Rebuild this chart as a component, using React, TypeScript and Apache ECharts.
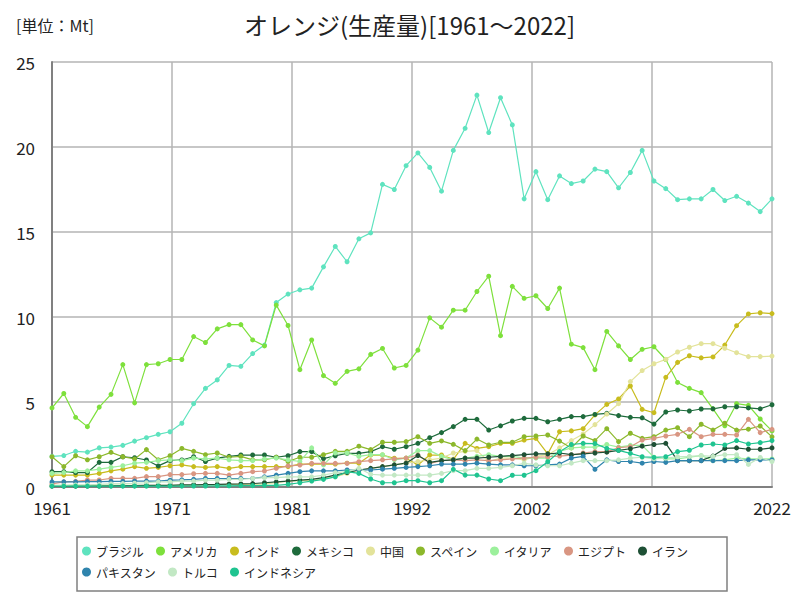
import React, { useEffect, useRef } from "react";
import * as echarts from "echarts";

const years: number[] = [];
for (let y = 1961; y <= 2022; y++) years.push(y);

const seriesNames = [
  "ブラジル", "アメリカ", "インド", "メキシコ", "中国", "スペイン",
  "イタリア", "エジプト", "イラン", "パキスタン", "トルコ", "インドネシア",
];

const colors = [
  "#5fe3bf", "#7ee03c", "#c8bc1e", "#1e6b3c", "#e3e39a", "#8cb82c",
  "#9cf09c", "#d99682", "#1e5035", "#2f84ad", "#c2e8c4", "#1fc490",
];

// 1961 .. 2022
const brazil = [
  1.8, 1.85, 2.1, 2.05, 2.3, 2.35, 2.45, 2.7, 2.9, 3.1,
  3.25, 3.75, 4.9, 5.8, 6.3, 7.15, 7.1, 7.85, 8.35, 10.85,
  11.35, 11.6, 11.7, 12.95, 14.15, 13.25, 14.6, 14.95, 17.8, 17.5,
  18.9, 19.65, 18.8, 17.4, 19.8, 21.1, 23.05, 20.85, 22.9, 21.3,
  16.95, 18.55, 16.9, 18.3, 17.85, 18.0, 18.7, 18.55, 17.6, 18.5,
  19.8, 18.0, 17.55, 16.9, 16.95, 16.95, 17.5, 16.85, 17.1, 16.7,
  16.2, 16.95,
];
const usa = [
  4.65, 5.5, 4.1, 3.55, 4.7, 5.45, 7.2, 4.95, 7.2, 7.25,
  7.5, 7.5, 8.85, 8.5, 9.3, 9.55, 9.55, 8.65, 8.3, 10.7,
  9.5, 6.9, 8.65, 6.55, 6.1, 6.8, 6.95, 7.8, 8.15, 7.0,
  7.15, 8.05, 9.95, 9.4, 10.4, 10.4, 11.5, 12.4, 8.9, 11.8,
  11.1, 11.25, 10.5, 11.7, 8.4, 8.2, 6.9, 9.15, 8.3, 7.5,
  8.1, 8.25, 7.5, 6.15, 5.8, 5.55, 4.6, 3.6, 4.9, 4.8,
  4.0, 3.3,
];
const india = [
  0.7, 0.7, 0.7, 0.7, 0.8, 0.95, 1.05, 1.2, 1.1, 1.15,
  1.25, 1.3, 1.2, 1.15, 1.2, 1.1, 1.2, 1.2, 1.2, 1.2,
  1.2, 1.35, 1.35, 1.35, 1.35, 1.4, 1.4, 1.88, 1.88, 1.69,
  1.69, 1.29, 1.88, 1.88, 1.63, 2.57, 2.27, 2.37, 2.57, 2.57,
  2.76, 2.86, 1.95, 3.25, 3.3, 3.43, 4.24, 4.86, 5.18, 5.94,
  4.57, 4.37, 6.45, 7.33, 7.72, 7.6, 7.65, 8.35, 9.49, 10.18,
  10.25, 10.2,
];
const mexico = [
  0.9, 0.9, 0.85, 0.85, 1.45, 1.45, 1.78, 1.72, 1.59, 1.24,
  1.55, 1.59, 1.78, 1.5, 1.7, 1.8, 1.88, 1.88, 1.88, 1.75,
  1.84, 2.08, 2.08, 1.67, 1.84, 1.98, 1.98, 2.08, 2.37, 2.22,
  2.37, 2.57, 2.9, 3.2, 3.55, 3.98, 3.98, 3.35, 3.6, 3.88,
  4.04, 4.04, 3.84, 3.98, 4.14, 4.14, 4.27, 4.33, 4.2, 4.1,
  4.07, 3.7, 4.41, 4.53, 4.47, 4.59, 4.6, 4.72, 4.72, 4.65,
  4.6, 4.84,
];
const china = [
  0.1, 0.1, 0.1, 0.1, 0.1, 0.1, 0.1, 0.1, 0.1, 0.1,
  0.1, 0.1, 0.1, 0.12, 0.12, 0.15, 0.15, 0.15, 0.18, 0.25,
  0.35, 0.37, 0.37, 0.5, 0.6, 0.8, 1.0, 1.1, 1.2, 1.3,
  1.4, 1.5, 1.6, 1.7, 2.0, 2.1, 2.14, 1.5, 1.7, 1.7,
  1.6, 1.8, 1.9, 2.3, 2.73, 3.12, 3.67, 4.29, 4.9, 6.2,
  6.85, 7.25, 7.51, 7.94, 8.22, 8.43, 8.43, 8.16, 7.9, 7.67,
  7.67, 7.7,
];
const spain = [
  1.78, 1.2, 1.84, 1.6, 1.78, 2.04, 1.78, 1.65, 2.2, 1.6,
  1.84, 2.27, 2.1, 1.9, 2.0, 1.75, 1.8, 1.6, 1.6, 1.75,
  1.5, 1.75, 1.75, 1.9, 2.1, 2.1, 2.4, 2.2, 2.63, 2.63,
  2.67, 2.96, 2.57, 2.71, 2.51, 2.14, 2.82, 2.47, 2.63, 2.63,
  2.96, 3.0, 3.06, 2.7, 2.3, 3.0, 2.73, 3.43, 2.67, 3.16,
  2.86, 2.96, 3.35, 3.49, 2.96, 3.69, 3.35, 3.75, 3.35, 3.4,
  3.59, 2.95,
];
const italy = [
  0.8, 0.85, 0.95, 0.95, 1.05, 1.15, 1.25, 1.4, 1.45, 1.55,
  1.6, 1.55, 1.7, 1.65, 1.7, 1.6, 1.55, 1.55, 1.65, 1.7,
  1.6, 1.5, 2.3, 1.3, 2.0, 2.0, 1.8, 1.9, 1.9, 1.6,
  1.7, 2.14, 2.14, 1.8, 1.6, 1.7, 1.8, 1.9, 1.8, 1.8,
  1.7, 1.7, 1.7, 2.1, 2.3, 2.35, 2.35, 2.5, 2.35, 2.45,
  2.45, 1.75, 1.65, 1.65, 1.75, 1.85, 1.55, 1.6, 1.7, 1.65,
  1.65, 1.65,
];
const egypt = [
  0.18, 0.3, 0.33, 0.41, 0.41, 0.51, 0.51, 0.51, 0.61, 0.61,
  0.73, 0.73, 0.78, 0.8, 0.8, 0.7, 0.8, 0.9, 0.94, 1.1,
  1.24, 1.29, 1.39, 1.39, 1.39, 1.39, 1.49, 1.55, 1.6, 1.65,
  1.7, 1.88, 1.39, 1.55, 1.6, 1.55, 1.6, 1.55, 1.6, 1.65,
  1.7, 1.75, 1.78, 1.82, 1.88, 2.0, 2.08, 2.08, 2.31, 2.37,
  2.76, 2.86, 3.0, 3.1, 3.39, 2.96, 3.1, 3.1, 3.06, 3.98,
  3.2, 3.39,
];
const iran = [
  0.05, 0.05, 0.05, 0.06, 0.06, 0.07, 0.08, 0.08, 0.09, 0.1,
  0.1, 0.12, 0.13, 0.14, 0.15, 0.17, 0.18, 0.2, 0.25, 0.3,
  0.35, 0.4, 0.45, 0.55, 0.7, 0.85, 1.0, 1.1, 1.2, 1.3,
  1.4, 1.85, 1.45, 1.55, 1.6, 1.7, 1.7, 1.75, 1.8, 1.85,
  1.9, 1.95, 1.95, 2.0, 1.9, 1.95, 2.0, 2.05, 2.15, 2.25,
  2.4, 2.5, 2.57, 1.55, 1.55, 1.55, 1.82, 2.27, 2.3, 2.22,
  2.22, 2.3,
];
const pakistan = [
  0.3, 0.3, 0.3, 0.32, 0.32, 0.33, 0.33, 0.35, 0.35, 0.35,
  0.4, 0.42, 0.45, 0.5, 0.5, 0.5, 0.5, 0.5, 0.6, 0.7,
  0.8, 0.9, 0.95, 0.95, 0.95, 1.0, 1.0, 1.0, 1.05, 1.1,
  1.15, 1.2, 1.25, 1.35, 1.35, 1.35, 1.4, 1.35, 1.3, 1.3,
  1.25, 1.25, 1.3, 1.35, 1.7, 1.8, 1.04, 1.6, 1.5, 1.5,
  1.4, 1.5, 1.45, 1.55, 1.55, 1.55, 1.55, 1.55, 1.55, 1.6,
  1.6, 1.6,
];
const turkey = [
  0.1, 0.1, 0.12, 0.13, 0.15, 0.18, 0.2, 0.22, 0.25, 0.3,
  0.3, 0.35, 0.35, 0.4, 0.4, 0.45, 0.45, 0.5, 0.55, 0.55,
  0.6, 0.6, 0.6, 0.7, 0.84, 0.9, 1.1, 0.75, 0.7, 0.7,
  0.7, 0.7, 0.7, 0.8, 0.96, 0.96, 1.1, 1.1, 1.16, 1.25,
  1.39, 1.3, 1.25, 1.25, 1.4, 1.55, 1.55, 1.55, 1.6, 1.7,
  1.75, 1.65, 1.7, 1.78, 1.8, 1.85, 1.8, 1.9, 1.9, 1.33,
  1.74, 1.5,
];
const indonesia = [
  0.05, 0.05, 0.05, 0.05, 0.05, 0.05, 0.05, 0.05, 0.05, 0.05,
  0.05, 0.05, 0.06, 0.06, 0.07, 0.07, 0.08, 0.08, 0.1, 0.1,
  0.15, 0.25, 0.35, 0.45, 0.6, 0.9, 0.8, 0.47, 0.25, 0.25,
  0.37, 0.37, 0.25, 0.37, 1.04, 0.7, 0.7, 0.47, 0.37, 0.69,
  0.69, 0.96, 1.49, 2.08, 2.5, 2.57, 2.55, 2.27, 2.15, 1.98,
  1.78, 1.74, 1.78, 2.08, 2.16, 2.47, 2.53, 2.47, 2.73, 2.53,
  2.61, 2.73,
];

const seriesValues = [
  brazil, usa, india, mexico, china, spain,
  italy, egypt, iran, pakistan, turkey, indonesia,
];

const yMax = 25;
const yStep = 5;
const xTicks = [1961, 1971.1667, 1981.3333, 1991.5, 2001.6667, 2011.8333, 2022];

const FONT = "'Noto Sans CJK JP', 'Noto Sans', sans-serif";

export default function App() {
  const ref = useRef<HTMLDivElement>(null);
  useEffect(() => {
    if (!ref.current) return;
    const chart = echarts.init(ref.current, undefined, { renderer: "svg" });
    const series = seriesNames.map((name, i) => ({
      name,
      type: "line",
      data: years.map((y, j) => [y, seriesValues[i][j]]),
      symbol: "circle",
      symbolSize: 5,
      lineStyle: { width: 1.2, color: colors[i] },
      itemStyle: { color: colors[i] },
      emphasis: { disabled: true },
    }));
    const legendCommon = {
      left: 82,
      padding: 0,
      itemWidth: 9,
      itemHeight: 9,
      itemGap: 12,
      icon: "circle",
      textStyle: { fontSize: 12, color: "#222", fontFamily: FONT },
    };
    chart.setOption({
      animation: false,
      textStyle: { fontFamily: FONT },
      grid: { left: 52, right: 28, top: 62, bottom: 113, containLabel: false },
      xAxis: {
        type: "value",
        min: 1961,
        max: 2022,
        axisLine: { show: true, lineStyle: { color: "#808080", width: 2 } },
        axisTick: { show: false, customValues: xTicks },
        axisLabel: {
          customValues: xTicks,
          formatter: (v: number) => String(Math.round(v)),
          fontSize: 17,
          color: "#222",
          margin: 12,
          fontFamily: FONT,
        },
        splitLine: { show: true, lineStyle: { color: "#b4b4b4", width: 1.5 } },
      },
      yAxis: {
        type: "value",
        min: 0,
        max: yMax,
        interval: yStep,
        axisLine: { show: true, lineStyle: { color: "#808080", width: 2 } },
        axisTick: { show: false },
        axisLabel: { fontSize: 17, color: "#222", margin: 17, fontFamily: FONT },
        splitLine: { show: true, lineStyle: { color: "#b4b4b4", width: 1.5 } },
      },
      legend: [
        { ...legendCommon, data: seriesNames.slice(0, 9), top: 545 },
        { ...legendCommon, data: seriesNames.slice(9), top: 566 },
      ],
      graphic: [
        {
          type: "text",
          left: 244,
          top: 12,
          style: {
            text: "オレンジ(生産量)[1961～2022]",
            fontSize: 24,
            fill: "#222",
            fontFamily: FONT,
          },
        },
        {
          type: "text",
          left: 16,
          top: 17,
          style: {
            text: "[単位：Mt]",
            fontSize: 16,
            fill: "#222",
            fontFamily: FONT,
          },
        },
        {
          type: "rect",
          shape: { x: 77, y: 537, width: 650, height: 54 },
          style: { fill: "none", stroke: "#808080", lineWidth: 1.5 },
          silent: true,
        },
      ],
      series,
    });
    return () => chart.dispose();
  }, []);
  return (
    <div
      ref={ref}
      style={{ position: "absolute", left: 0, top: 0, width: 800, height: 600 }}
    />
  );
}
